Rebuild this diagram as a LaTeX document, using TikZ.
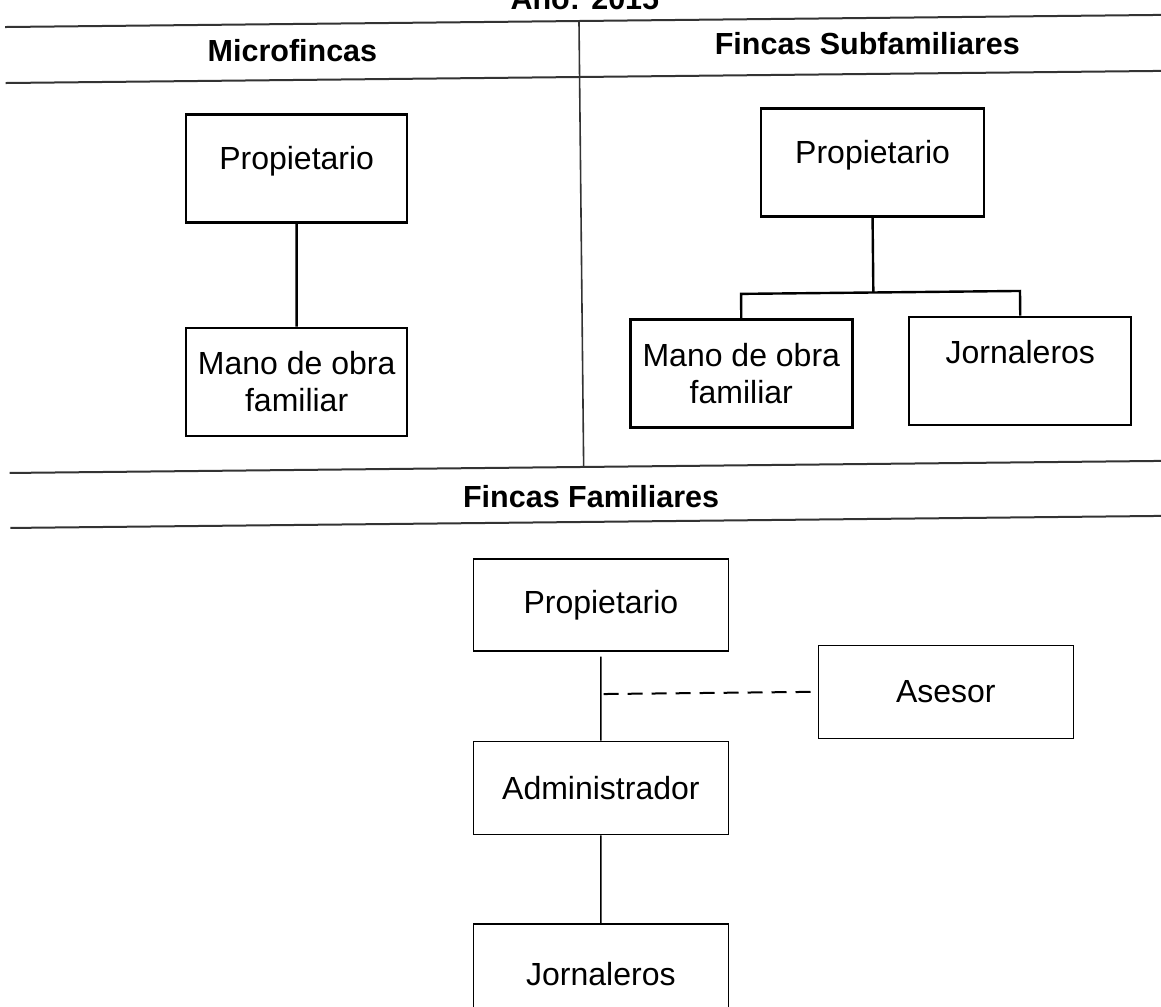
\documentclass[tikz,border=0pt]{standalone}
\usepackage{fontspec}
\setmainfont{Liberation Sans}
\usetikzlibrary{positioning}

\tikzset{
  box/.style={draw, line width=2.4pt, align=center, inner sep=0pt, font=\fontsize{32}{37}\selectfont},
  topbox/.style={box, minimum width=221pt, minimum height=108pt},
  lowbox/.style={box, line width=1.6pt, minimum width=255pt, minimum height=92pt},
  head/.style={font=\fontsize{30.5}{35}\selectfont\bfseries, anchor=base},
  rule/.style={line width=2pt, black!80},
  link/.style={line width=2.4pt},
  thinlink/.style={line width=1.4pt},
}

\begin{document}
\begin{tikzpicture}[x=1pt,y=-1pt]
	\useasboundingbox (0,0) rectangle (1161,1006);
	\fill[white] (0,0) rectangle (1161,1006);
	\begin{scope}[rotate around={0.6:(580,500)}]
		\node(year) [head] at (590,10) {Año: 2015};
		
		%----------------------------------------------------------------
		\draw[rule] (10,21) -- (1180,21);
		\draw[rule] (10,77) -- (1180,77);
		\draw[rule] (10,467) -- (1180,467);
		\draw[rule] (10,522) -- (1180,522);
		\draw[rule, line width=1.6pt] (584,21) -- (584,467);
		
		\node(hmicro) [head] at (297,58) {Microfincas};
		\node(hsub) [head] at (872,58) {Fincas Subfamiliares};
		\node(hfam) [head] at (591,508) {Fincas Familiares};
		
		%----------------------------------------------------------------
		\node(propM) [topbox, text depth=20pt, anchor=north west] at (189,109) {Propietario};
		\node(manoM) [topbox, below=103pt of propM] {Mano de obra\\familiar};
		\draw[link] (propM) -- (manoM);
		
		%----------------------------------------------------------------
		\node(propS) [topbox, text depth=20pt, minimum width=223pt, anchor=north west] at (764,109) {Propietario};
		\node(manoS) [topbox, minimum width=222pt, anchor=north west] at (631,319) {Mano de obra\\familiar};
		\node(jornS) [topbox, minimum width=222pt, text depth=38pt, anchor=north west] at (910,319) {Jornaleros};
		\draw[link] (propS.south) -- ++(0,75) coordinate (forkS);
		\draw[link] (manoS.north) |- (forkS) -| (jornS.north);
		
		%----------------------------------------------------------------
		\node(propF) [lowbox, anchor=north west] at (472,557) {Propietario};
		\node(adminF) [lowbox, minimum height=93pt, below=89pt of propF] {Administrador};
		\node(jornF) [lowbox, minimum height=100pt, below=88pt of adminF] {Jornaleros};
		\node(asesorF) [lowbox, minimum height=93pt, anchor=north west] at (816,647) {Asesor};
		\draw[thinlink, shorten <=5pt] (propF) -- (adminF);
		\draw[thinlink] (adminF) -- (jornF);
		\draw[thinlink, line width=2pt, dash pattern=on 15pt off 9pt, shorten <=7pt] (asesorF.west) -- (asesorF.west -| propF.south);
	\end{scope}
\end{tikzpicture}
\end{document}
